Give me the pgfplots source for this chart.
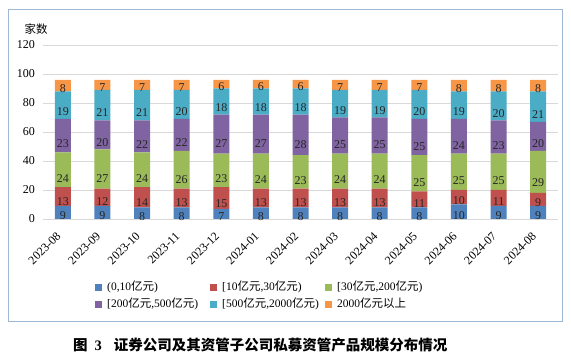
\documentclass[border=0pt]{standalone}
\usepackage{fontspec}
\setmainfont{Liberation Serif}
\newfontfamily\cjk{Noto Sans CJK SC}
\usepackage{pgfplots}
\usepackage{pgfplotstable}
\pgfplotsset{compat=1.18}
\definecolor{c1}{HTML}{4F81BD}
\definecolor{c2}{HTML}{C0504D}
\definecolor{c3}{HTML}{9BBB59}
\definecolor{c4}{HTML}{8064A2}
\definecolor{c5}{HTML}{4BACC6}
\definecolor{c6}{HTML}{F79646}
\definecolor{frame}{HTML}{9DB7D5}
\definecolor{gridc}{HTML}{D9D9D9}
\newcommand\zh[1]{{\cjk #1}}
\pgfplotstableread{
x a b c d e f
0 9 13 24 23 19 8
1 9 12 27 20 21 7
2 8 14 24 22 21 7
3 8 13 26 22 20 7
4 7 15 23 27 18 6
5 8 13 24 27 18 6
6 8 13 23 28 18 6
7 8 13 24 25 19 7
8 8 13 24 25 19 7
9 8 11 25 25 20 7
10 10 10 25 24 19 8
11 9 11 25 23 20 8
12 9 9 29 20 21 8
}\data
\pgfplotsset{
  calcoff/.code={%
    \pgfkeys{/pgf/fpu=true,/pgf/fpu/output format=fixed}%
    \pgfmathsetmacro\myoff{\pgfplotspointmeta*0.3625}%
    \pgfkeys{/pgf/fpu=false}%
  },
  seg/.style={fill=#1, draw=none, forget plot},
  lg/.style={fill=#1, draw=none, legend image code/.code={\fill[fill=#1] (0pt,-3.5pt) rectangle (7pt,3.5pt);}},
}
\begin{document}
\begin{tikzpicture}[x=1pt,y=1pt]
\useasboundingbox (0,0) rectangle (571,355);
\draw[color=frame, line width=0.9pt] (8.5,33.5) rectangle (562.5,345.5);
\begin{axis}[
  at={(43pt,136pt)}, anchor=south west,
  scale only axis, width=515pt, height=174pt,
  ybar stacked, bar width=16pt,
  xmin=-0.5, xmax=12.5, ymin=0, ymax=120,
  ytick={0,20,...,120},
  xtick={0,...,12},
  xticklabels={2023-08,2023-09,2023-10,2023-11,2023-12,2024-01,2024-02,2024-03,2024-04,2024-05,2024-06,2024-07,2024-08},
  /pgf/number format/assume math mode=true,
  axis line style={draw=none},
  major tick length=0pt,
  ymajorgrids, grid style={color=gridc, line width=0.8pt},
  ticklabel style={font=\fontsize{12}{13}\selectfont},
  yticklabel style={anchor=east, inner sep=0pt, xshift=-8pt},
  xticklabel style={inner sep=0pt, xshift=-4pt, yshift=-15pt, rotate=45, anchor=east},
  point meta=explicit,
  nodes near coords,
  every node near coord/.append style={/pgfplots/calcoff, anchor=center, yshift=-\myoff pt, font=\fontsize{12}{13}\selectfont, text=black!85},
  legend columns=3,
  legend style={at={(rel axis cs:0.101,-0.362)}, anchor=north west, draw=none, fill=none,
    inner sep=0pt, row sep=6.5pt, nodes={inner sep=0pt, text height=8pt, text depth=2.5pt},
    font=\fontsize{11.5}{13}\selectfont},
]
\addplot[seg=c1] table[x=x,y=a,meta=a]{\data};
\addplot[seg=c2] table[x=x,y=b,meta=b]{\data};
\addplot[seg=c3] table[x=x,y=c,meta=c]{\data};
\addplot[seg=c4] table[x=x,y=d,meta=d]{\data};
\addplot[seg=c5] table[x=x,y=e,meta=e]{\data};
\addplot[seg=c6] table[x=x,y=f,meta=f]{\data};
\addlegendimage{lg=c1}
\addlegendentry{\makebox[108pt][l]{\hspace{5pt}(0,10\zh{亿元})}}
\addlegendimage{lg=c2}
\addlegendentry{\makebox[108pt][l]{\hspace{5pt}[10\zh{亿元},30\zh{亿元})}}
\addlegendimage{lg=c3}
\addlegendentry{\makebox[108pt][l]{\hspace{5pt}[30\zh{亿元},200\zh{亿元})}}
\addlegendimage{lg=c4}
\addlegendentry{\makebox[108pt][l]{\hspace{5pt}[200\zh{亿元},500\zh{亿元})}}
\addlegendimage{lg=c5}
\addlegendentry{\makebox[108pt][l]{\hspace{5pt}[500\zh{亿元},2000\zh{亿元})}}
\addlegendimage{lg=c6}
\addlegendentry{\makebox[108pt][l]{\hspace{5pt}2000\zh{亿元以上}}}
\end{axis}
\node[font=\fontsize{11.5}{13}\selectfont] at (36,326) {\zh{家数}};
\node[anchor=west, inner sep=0pt, font=\fontsize{14.5}{16}\selectfont\bfseries] at (73,10)
  {\zh{图}\hspace{7pt}3\hspace{12pt}\zh{证券公司及其资管子公司私募资管产品规模分布情况}};
\end{tikzpicture}
\end{document}
